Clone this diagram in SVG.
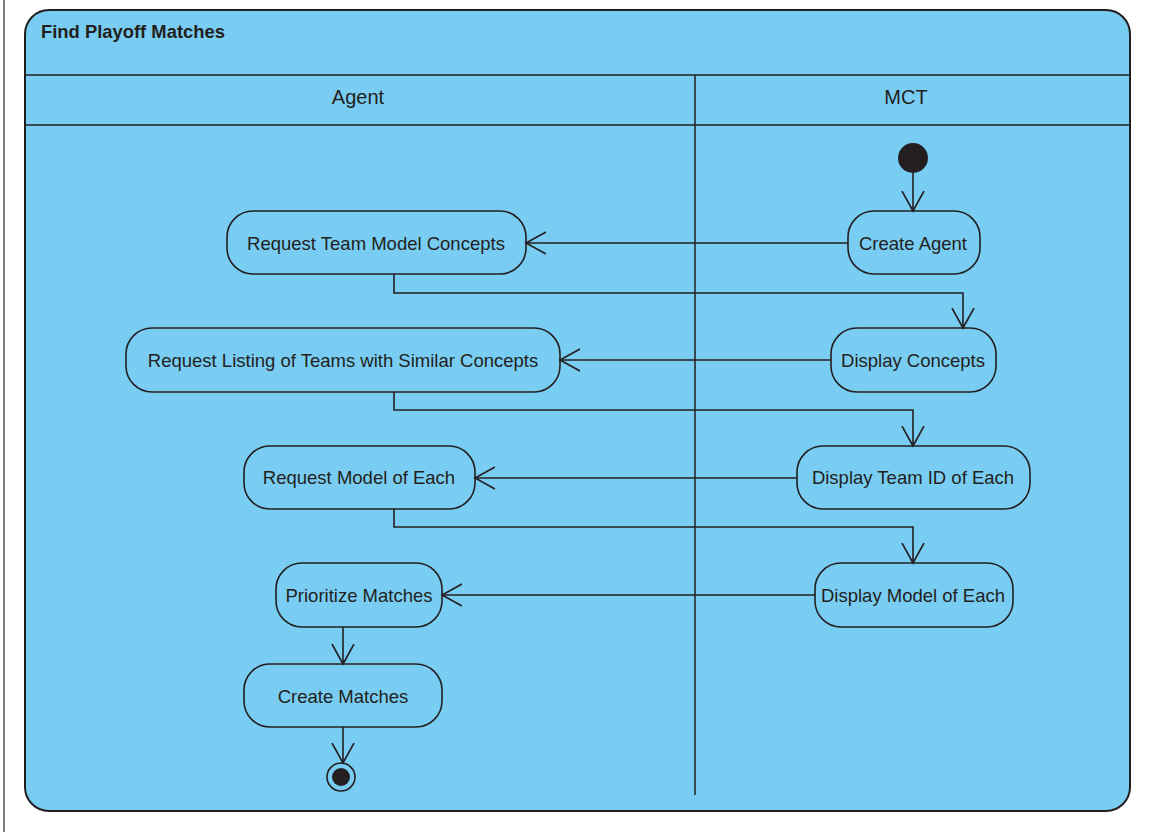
<svg xmlns="http://www.w3.org/2000/svg" width="1150" height="832" viewBox="0 0 1150 832">
  <style>
    .frame { fill: #79cdf3; stroke: #231f20; stroke-width: 2; }
    .rule { stroke: #231f20; stroke-width: 1.5; fill: none; }
    .act { fill: #79cdf3; stroke: #231f20; stroke-width: 1.6; }
    .lbl { font-family: "Liberation Sans", Arial, sans-serif; font-size: 18.5px; fill: #231f20; text-anchor: middle; }
    .lane { font-family: "Liberation Sans", Arial, sans-serif; font-size: 20px; fill: #231f20; text-anchor: middle; }
    .title { font-family: "Liberation Sans", Arial, sans-serif; font-size: 18.4px; font-weight: bold; fill: #231f20; }
    .flow { stroke: #231f20; stroke-width: 1.6; fill: none; marker-end: url(#open); }
  </style>
  <defs>
    <marker id="open" markerWidth="24" markerHeight="24" refX="20" refY="11" orient="auto" markerUnits="userSpaceOnUse" viewBox="0 0 24 22">
      <path d="M0,0 L20,11 L0,22" fill="none" stroke="#231f20" stroke-width="1.6"/>
    </marker>
  </defs>

  <!-- outer page edge -->
  <line x1="4" y1="0" x2="4" y2="832" stroke="#555" stroke-width="1.5"/>

  <!-- activity frame with partitions -->
  <g id="frame">
    <rect class="frame" x="25" y="10" width="1105" height="801" rx="24" ry="24"/>
    <text class="title" x="41" y="38">Find Playoff Matches</text>
    <line class="rule" x1="25" y1="75" x2="1130" y2="75"/>
    <line class="rule" x1="25" y1="125" x2="1130" y2="125"/>
    <line class="rule" x1="695" y1="75" x2="695" y2="795"/>
    <text class="lane" x="358" y="104">Agent</text>
    <text class="lane" x="906" y="104">MCT</text>
  </g>

  <g id="start">
    <circle cx="913" cy="158" r="15" fill="#231f20"/>
  </g>

  <g id="create-agent">
    <rect class="act" x="848" y="211" width="132" height="63" rx="26"/>
    <text class="lbl" x="913" y="250">Create Agent</text>
  </g>
  <g id="request-team-model">
    <rect class="act" x="227" y="211" width="299" height="63" rx="26"/>
    <text class="lbl" x="376" y="250">Request Team Model Concepts</text>
  </g>
  <g id="display-concepts">
    <rect class="act" x="831" y="328" width="165" height="64" rx="26"/>
    <text class="lbl" x="913" y="367">Display Concepts</text>
  </g>
  <g id="request-listing">
    <rect class="act" x="126" y="328" width="434" height="64" rx="26"/>
    <text class="lbl" x="343" y="367">Request Listing of Teams with Similar Concepts</text>
  </g>
  <g id="display-team-id">
    <rect class="act" x="797" y="446" width="233" height="63" rx="26"/>
    <text class="lbl" x="913" y="484">Display Team ID of Each</text>
  </g>
  <g id="request-model">
    <rect class="act" x="244" y="446" width="231" height="63" rx="26"/>
    <text class="lbl" x="359" y="484">Request Model of Each</text>
  </g>
  <g id="display-model">
    <rect class="act" x="815" y="563" width="198" height="64" rx="26"/>
    <text class="lbl" x="913" y="602">Display Model of Each</text>
  </g>
  <g id="prioritize">
    <rect class="act" x="276" y="563" width="166" height="64" rx="26"/>
    <text class="lbl" x="359" y="602">Prioritize Matches</text>
  </g>
  <g id="create-matches">
    <rect class="act" x="244" y="664" width="198" height="63" rx="26"/>
    <text class="lbl" x="343" y="703">Create Matches</text>
  </g>

  <g id="final">
    <circle cx="341" cy="777" r="14" fill="none" stroke="#231f20" stroke-width="1.6"/>
    <circle cx="341" cy="777" r="9" fill="#231f20"/>
  </g>

  <g id="connectors">
    <path class="flow" d="M913,173 L913,211"/>
    <path class="flow" d="M848,243 L526,243"/>
    <path class="flow" d="M394,274 L394,293 L963,293 L963,328"/>
    <path class="flow" d="M831,360 L560,360"/>
    <path class="flow" d="M394,392 L394,410 L913,410 L913,446"/>
    <path class="flow" d="M797,478 L475,478"/>
    <path class="flow" d="M394,509 L394,527 L913,527 L913,563"/>
    <path class="flow" d="M815,595 L442,595"/>
    <path class="flow" d="M343,627 L343,664"/>
    <path class="flow" d="M343,727 L343,763"/>
  </g>
</svg>
